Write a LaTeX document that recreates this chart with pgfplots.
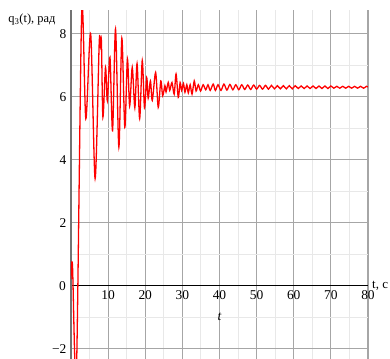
\documentclass[border=0pt]{standalone}
\usepackage{fontspec}
\setmainfont{Liberation Serif}
\usepackage{pgfplots}
\pgfplotsset{compat=1.18}
\begin{document}
\fontsize{13}{15}\selectfont
\begin{tikzpicture}
\begin{axis}[
  scale only axis, width=297bp, height=348.7bp,
  xmin=0, xmax=80, ymin=-2.32, ymax=8.75,
  clip mode=individual,
  axis lines=middle, axis line style={-},
  x axis line style={black, line width=0.9pt},
  y axis line style={black!55, line width=1.8pt},
  xtick={10,20,...,80}, minor xtick={5,15,...,75},
  ytick={-2,0,2,4,6,8}, yticklabels={−2,0,2,4,6,8},
  minor ytick={-1,1,3,5,7},
  grid=both,
  major grid style={color=black!35, line width=1.1pt},
  minor grid style={color=black!9, line width=1.1pt},
  major tick length=0pt, minor tick length=0pt,
  tick label style={font=\fontsize{13.5}{15}\selectfont},
  /pgf/number format/assume math mode=true,
  xlabel={t, c}, ylabel={q\textsubscript{3}(t), рад},
  xlabel style={at={(axis description cs:1,0.2096)}, anchor=west, inner sep=0pt, xshift=4bp, font=\fontsize{13}{15}\selectfont},
  ylabel style={at={(axis description cs:-0.037,0.972)}, anchor=east, rotate=0, font=\fontsize{12.5}{15}\selectfont},
]
\addplot[red, line width=1.3pt, smooth, tension=0.5] coordinates {
(0,0.2) (0.4,0.65) (1.45,-2.8) (2.9,8.7) (4.0,5.3) (5.3,8.0) (6.5,3.4)
(7.6,7.7) (7.9,7.62) (8.2,7.76) (8.6,5.35) (9.3,6.93) (9.8,5.87) (10.5,7.25)
(11.2,4.92) (12.0,8.15) (12.9,4.4) (13.7,7.86) (14.5,5.03) (15.2,7.2) (15.8,5.7)
(16.5,6.93) (17.2,5.65) (17.8,7.05) (18.5,5.3) (19.2,7.15) (19.8,5.65) (20.4,6.6)
(20.8,5.95) (21.4,6.5) (21.9,5.88) (22.8,6.77) (23.5,5.66) (24.2,6.5) (24.7,6.03)
(25.3,6.35) (25.6,6.15) (26.2,6.45) (26.6,6.2) (27.2,6.45) (27.8,6.08) (28.3,6.72)
(28.9,5.98) (29.4,6.45) (29.8,6.2) (30.3,6.42) (30.7,6.14) (31.2,6.38) (31.6,6.12)
(32.1,6.38) (32.6,6.08) (33.2,6.5) (33.7,6.18) (34.3,6.38) (34.9,6.18) (35.6,6.38)
(36.3,6.22) (36.9,6.38) (37.5,6.2) (38.3,6.4) (38.9,6.2) (39.6,6.38)
(40.4,6.2) (41.2,6.4) (42.0,6.21) (42.8,6.39) (43.6,6.22) (44.4,6.38) (45.2,6.22)
(46.0,6.38) (46.8,6.23) (47.6,6.37) (48.4,6.23) (49.2,6.37) (50.0,6.24) (50.8,6.36)
(51.6,6.24) (52.4,6.36) (53.2,6.24) (54.0,6.36) (54.8,6.25) (55.6,6.35) (56.4,6.25)
(57.2,6.35) (58.0,6.25) (58.8,6.35) (59.6,6.25) (60.4,6.35) (61.2,6.26) (62.0,6.34)
(62.8,6.26) (63.6,6.34) (64.4,6.26) (65.2,6.34) (66.0,6.26) (66.8,6.34) (67.6,6.26)
(68.4,6.34) (69.2,6.26) (70.0,6.34) (70.8,6.27) (71.6,6.33) (72.4,6.27) (73.2,6.33)
(74.0,6.27) (74.8,6.33) (75.6,6.27) (76.4,6.33) (77.2,6.27) (78.0,6.33) (78.8,6.27)
(79.6,6.33) (80,6.31)
};
\node[font=\fontsize{13.5}{15}\selectfont\itshape] at (axis cs:40,-0.98) {t};
\node[font=\fontsize{13.5}{15}\selectfont, anchor=east, inner sep=0pt, xshift=-5bp] at (axis cs:0,0) {0};
\coordinate (bbl) at (axis cs:-19.12,-2.32);
\coordinate (btr) at (axis cs:85.93,9.07);
\end{axis}
\pgfresetboundingbox
\useasboundingbox (bbl) rectangle (btr);
\end{tikzpicture}
\end{document}
